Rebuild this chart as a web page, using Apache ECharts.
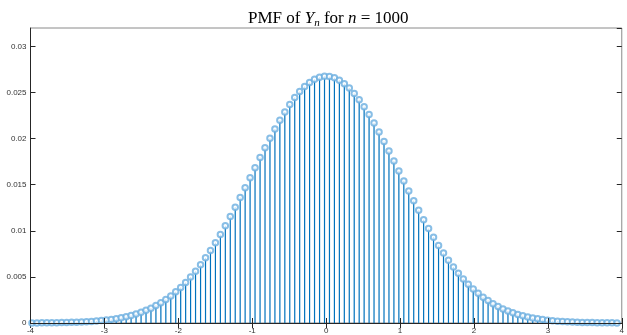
<!DOCTYPE html>
<html>
<head>
<meta charset="utf-8">
<script src="https://cdn.jsdelivr.net/npm/echarts@6/dist/echarts.min.js"></script>
<style>
  html, body { margin: 0; padding: 0; background: #fff; }
  #chart { width: 627px; height: 335px; }
</style>
</head>
<body>
<div id="chart"></div>
<script>
// standardised value y for each stem
const xs = [
  -3.980, -3.913, -3.846, -3.779, -3.712, -3.645, -3.578, -3.511, -3.444, -3.376,
  -3.309, -3.242, -3.175, -3.108, -3.041, -2.974, -2.907, -2.840, -2.773, -2.706,
  -2.639, -2.572, -2.504, -2.437, -2.370, -2.303, -2.236, -2.169, -2.102, -2.035,
  -1.968, -1.901, -1.834, -1.767, -1.699, -1.632, -1.565, -1.498, -1.431, -1.364,
  -1.297, -1.230, -1.163, -1.096, -1.029, -0.962, -0.894, -0.827, -0.760, -0.693,
  -0.626, -0.559, -0.492, -0.425, -0.358, -0.291, -0.224, -0.157, -0.089, -0.022,
  0.045, 0.112, 0.179, 0.246, 0.313, 0.380, 0.447, 0.514, 0.581, 0.648,
  0.716, 0.783, 0.850, 0.917, 0.984, 1.051, 1.118, 1.185, 1.252, 1.319,
  1.386, 1.453, 1.521, 1.588, 1.655, 1.722, 1.789, 1.856, 1.923, 1.990,
  2.057, 2.124, 2.191, 2.258, 2.326, 2.393, 2.460, 2.527, 2.594, 2.661,
  2.728, 2.795, 2.862, 2.929, 2.996, 3.063, 3.131, 3.198, 3.265, 3.332,
  3.399, 3.466, 3.533, 3.600, 3.667, 3.734, 3.801, 3.868, 3.935
]

// PMF value read for each stem
const pmf = [
  0.000010, 0.000013, 0.000016, 0.000021, 0.000027, 0.000035, 0.000044, 0.000056, 0.000071, 0.000090,
  0.00011, 0.00014, 0.00017, 0.00021, 0.00026, 0.00032, 0.00039, 0.00047, 0.00057, 0.00069,
  0.00082, 0.00098, 0.00116, 0.00137, 0.00161, 0.00189, 0.00220, 0.00255, 0.00294, 0.00338,
  0.00386, 0.00439, 0.00498, 0.00562, 0.00632, 0.00707, 0.00786, 0.00871, 0.00961, 0.01056,
  0.01154, 0.01256, 0.01361, 0.01468, 0.01576, 0.01685, 0.01795, 0.01901, 0.02005, 0.02105,
  0.02200, 0.02289, 0.02371, 0.02445, 0.02510, 0.02565, 0.02610, 0.02643, 0.02666, 0.02676,
  0.02673, 0.02660, 0.02634, 0.02596, 0.02548, 0.02490, 0.02422, 0.02345, 0.02261, 0.02169,
  0.02071, 0.01970, 0.01865, 0.01758, 0.01649, 0.01540, 0.01433, 0.01326, 0.01222, 0.01121,
  0.01024, 0.00931, 0.00842, 0.00758, 0.00680, 0.00608, 0.00540, 0.00478, 0.00421, 0.00369,
  0.00323, 0.00280, 0.00243, 0.00209, 0.00179, 0.00153, 0.00130, 0.00110, 0.00093, 0.00078,
  0.00065, 0.00054, 0.00045, 0.00037, 0.00030, 0.00025, 0.00020, 0.00016, 0.00013, 0.000104,
  0.000083, 0.000066, 0.000052, 0.000041, 0.000032, 0.000025, 0.000019, 0.000015, 0.000012
]

const xTicks = [-4, -3, -2, -1, 0, 1, 2, 3, 4]
const yTickLabels = ['0', '0.005', '0.01', '0.015', '0.02', '0.025', '0.03']

const stemColor = '#0072BD'
const markerColor = '#6aaee0'
const axisColor = '#262626'

const points = xs.map((x, i) => [x, pmf[i]])

const chart = echarts.init(document.getElementById('chart'))

const tickFont = {
  fontFamily: 'Liberation Sans, Arial, sans-serif',
  fontSize: 8,
  color: '#333'
}

const serif = { fontFamily: 'Liberation Serif', fontWeight: 'normal', color: '#000' }

chart.setOption({
  animation: false,
  title: {
    left: 243,
    top: 4,
    text: '{r|PMF of }{i|Y}{s|n}{r| for }{i|n}{r| = 1000}',
    textStyle: {
      fontWeight: 'normal',
      rich: {
        r: Object.assign({ fontSize: 17, lineHeight: 20 }, serif),
        i: Object.assign({ fontSize: 17, lineHeight: 20, fontStyle: 'italic' }, serif),
        s: Object.assign({ fontSize: 11, lineHeight: 11, fontStyle: 'italic', verticalAlign: 'bottom' }, serif)
      }
    }
  },
  grid: {
    left: 30.5,
    right: 2.5,
    top: 28,
    bottom: 12,
    show: true,
    borderColor: '#8a8a8a',
    borderWidth: 1
  },
  xAxis: [
    {
      type: 'value',
      min: -4,
      max: 4,
      interval: 1,
      z: 5,
      axisLine: { onZero: false, lineStyle: { color: axisColor, width: 1 } },
      axisTick: { inside: true, length: 5, lineStyle: { color: axisColor } },
      axisLabel: Object.assign({ margin: 4, formatter: v => xTicks.includes(v) ? String(v) : '' }, tickFont),
      splitLine: { show: false }
    },
    {
      type: 'value',
      position: 'top',
      min: -4,
      max: 4,
      interval: 1,
      axisLine: { show: false },
      axisTick: { inside: true, length: 5, lineStyle: { color: axisColor } },
      axisLabel: { show: false },
      splitLine: { show: false }
    }
  ],
  yAxis: [
    {
      type: 'value',
      min: 0,
      max: 0.032,
      interval: 0.005,
      z: 5,
      axisLine: { show: true, onZero: false, lineStyle: { color: axisColor, width: 1 } },
      axisTick: { inside: true, length: 5, lineStyle: { color: axisColor } },
      axisLabel: Object.assign({
        margin: 4,
        showMaxLabel: false,
        formatter: v => {
          const idx = Math.round(v / 0.005)
          return Math.abs(v - idx * 0.005) < 1e-9 && yTickLabels[idx] !== undefined ? yTickLabels[idx] : ''
        }
      }, tickFont),
      splitLine: { show: false }
    },
    {
      type: 'value',
      position: 'right',
      min: 0,
      max: 0.032,
      interval: 0.005,
      axisLine: { show: false, onZero: false },
      axisTick: { inside: true, length: 5, lineStyle: { color: axisColor } },
      axisLabel: { show: false },
      splitLine: { show: false }
    }
  ],
  series: [
    {
      type: 'bar',
      data: points,
      barWidth: 1.2,
      itemStyle: { color: stemColor },
      silent: true
    },
    {
      type: 'scatter',
      data: points,
      symbol: 'emptyCircle',
      symbolSize: 5.5,
      itemStyle: { color: markerColor, borderColor: markerColor, borderWidth: 0.6 },
      silent: true
    }
  ]
})
</script>
</body>
</html>
